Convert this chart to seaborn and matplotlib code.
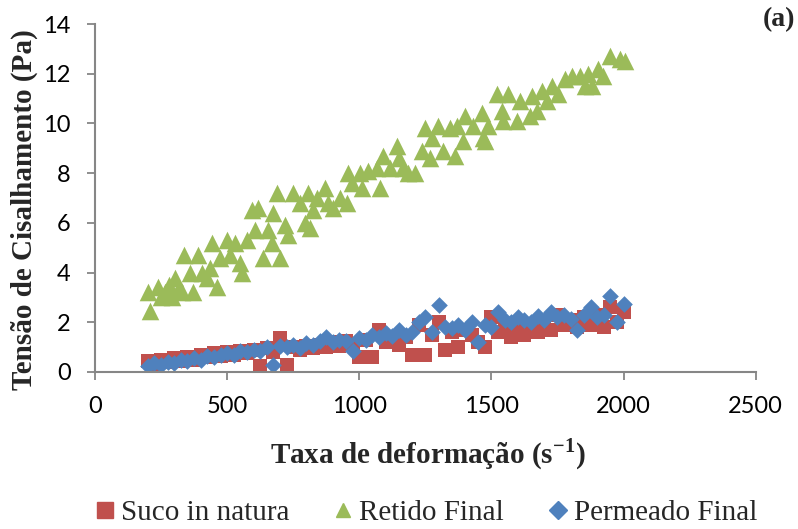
import matplotlib
matplotlib.use("Agg")
import matplotlib.pyplot as plt
from matplotlib.lines import Line2D
import seaborn as sns
import pandas as pd

# ---- data ----
suco_x = [200, 225, 250, 275, 300, 325, 350, 375, 400, 425, 450, 475, 500, 525, 550,
          575, 600, 625, 650, 675, 700, 725, 750, 775, 800, 825, 850, 875, 900, 925,
          950, 975, 1000, 1025, 1050, 1075, 1100, 1125, 1150, 1175, 1200, 1225, 1250,
          1275, 1300, 1325, 1350, 1375, 1400, 1425, 1450, 1475, 1500, 1525, 1550, 1575,
          1600, 1625, 1650, 1675, 1700, 1725, 1750, 1775, 1800, 1825, 1850, 1875, 1900,
          1925, 1950, 1975, 2000]
suco_y = [0.45, 0.3, 0.5, 0.4, 0.55, 0.45, 0.6, 0.5, 0.7, 0.6, 0.75, 0.65, 0.8, 0.7, 0.85,
          0.75, 0.9, 0.25, 0.95, 0.8, 1.35, 0.3, 1.0, 0.9, 1.05, 0.95, 1.1, 1.0, 1.2, 1.05,
          1.25, 1.1, 0.6, 1.3, 0.6, 1.7, 1.2, 1.35, 1.1, 1.4, 0.7, 1.9, 0.7,
          1.5, 2.0, 0.9, 1.6, 1.0, 1.7, 1.5, 1.2, 1.0, 2.2, 1.6, 1.8, 1.4,
          1.9, 1.5, 1.8, 1.6, 2.0, 1.7, 2.3, 1.9, 2.1, 1.8, 2.2, 1.9, 2.3,
          1.8, 2.6, 2.0, 2.4]

retido_x = [200, 208, 239, 250, 265, 280, 291, 303, 315, 329, 335, 359, 371, 390, 405,
            424, 435, 442, 461, 473, 499, 511, 529, 548, 555, 575, 594, 605, 616, 635,
            654, 669, 673, 688, 700, 718, 730, 749, 775, 794, 806, 813, 824, 840, 870,
            881, 900, 927, 953, 957, 972, 1002, 1010, 1033, 1066, 1078, 1089, 1116, 1142,
            1150, 1165, 1184, 1210, 1237, 1248, 1267, 1274, 1297, 1316, 1343, 1362, 1369,
            1392, 1399, 1430, 1464, 1467, 1475, 1486, 1520, 1539, 1543, 1562, 1596, 1607,
            1645, 1653, 1672, 1691, 1709, 1728, 1751, 1778, 1804, 1834, 1853, 1865, 1880,
            1902, 1921, 1948, 1986, 2005]
retido_y = [3.2, 2.45, 3.4, 3.0, 3.2, 3.5, 3.0, 3.8, 3.3, 3.2, 4.7, 4.0, 3.2, 4.7, 4.0,
            3.8, 4.2, 5.2, 3.4, 4.6, 5.3, 4.7, 5.2, 4.4, 4.0, 5.3, 6.5, 5.7, 6.6, 4.6,
            5.7, 5.2, 6.4, 7.2, 4.6, 5.9, 5.5, 7.2, 6.8, 6.0, 7.2, 5.8, 6.5, 7.0, 7.4,
            6.8, 6.6, 7.0, 6.8, 8.0, 7.6, 8.0, 7.4, 8.1, 8.2, 7.4, 8.7, 8.2, 9.1,
            8.6, 8.2, 8.0, 8.0, 8.9, 9.8, 8.6, 9.4, 9.9, 8.9, 9.8, 8.7, 9.9,
            9.3, 10.3, 9.9, 10.4, 9.4, 9.3, 9.9, 11.2, 10.5, 10.1, 11.2, 10.1, 10.9,
            10.3, 11.1, 10.5, 11.3, 10.9, 11.5, 11.2, 11.8, 11.9, 11.9, 11.5, 12.0, 11.5,
            12.2, 11.9, 12.7, 12.6, 12.5]

permeado_x = suco_x
permeado_y = [0.25, 0.35, 0.3, 0.4, 0.35, 0.5, 0.45, 0.55, 0.5, 0.65, 0.6, 0.7, 0.75, 0.7, 0.85,
              0.8, 0.9, 0.85, 1.0, 0.3, 1.05, 1.0, 1.1, 0.95, 1.15, 1.1, 1.25, 1.4, 1.2, 1.3,
              1.25, 0.85, 1.35, 1.3, 1.5, 1.4, 1.55, 1.45, 1.7, 1.5, 1.6, 2.0, 2.2,
              1.6, 2.7, 1.8, 1.75, 1.9, 1.7, 2.0, 1.2, 1.9, 1.8, 2.4, 2.1, 2.0,
              2.2, 2.1, 2.0, 2.25, 2.1, 2.4, 2.2, 2.3, 2.15, 1.7, 2.3, 2.6, 2.2,
              2.3, 3.05, 2.0, 2.75]

series_names = ["Suco in natura", "Retido Final", "Permeado Final"]
colors = ["#C0504D", "#9BBB59", "#4F81BD"]
markers = ["s", "^", "D"]
msizes = [90, 160, 72]

xticks = [0, 500, 1000, 1500, 2000, 2500]
yticks = [0, 2, 4, 6, 8, 10, 12, 14]

frames = []
for name, xs, ys in zip(series_names, [suco_x, retido_x, permeado_x],
                        [suco_y, retido_y, permeado_y]):
    frames.append(pd.DataFrame({"x": xs, "y": ys, "serie": name}))
df = pd.concat(frames, ignore_index=True)

sns.set_theme(style="white")
plt.rcParams["font.family"] = ["Lato", "DejaVu Sans"]

fig = plt.figure(figsize=(7.98, 5.29), dpi=100)
ax = fig.add_axes([0.119, 0.2968, 0.828, 0.6578])

for name, c, m, s in zip(series_names, colors, markers, msizes):
    sns.scatterplot(data=df[df["serie"] == name], x="x", y="y", color=c, marker=m,
                    s=s, linewidth=0, ax=ax, legend=False)

ax.set_xlim(0, 2500)
ax.set_ylim(0, 14)
ax.set_xticks(xticks)
ax.set_yticks(yticks)
ax.tick_params(axis="both", which="major", labelsize=17, direction="out",
               length=5.5, width=1.3, color="#868686", pad=12, labelcolor="black",
               bottom=True, left=True)
for side in ["top", "right"]:
    ax.spines[side].set_visible(False)
for side in ["left", "bottom"]:
    ax.spines[side].set_color("#868686")
    ax.spines[side].set_linewidth(1.5)

serif = ["Liberation Serif", "DejaVu Serif"]
serif_bold = dict(family=serif, weight="bold", size=21)
ax.set_xlabel("Taxa de deformação (s$^{\\mathregular{-1}}$)", fontdict=serif_bold)
ax.set_ylabel("Tensão de Cisalhamento (Pa)", fontdict=serif_bold)
ax.xaxis.set_label_coords(0.504, -0.185)
ax.yaxis.set_label_coords(-0.086, 0.466)

fig.text(0.997, 0.962, "(a)", ha="right", va="center",
         family=serif, weight="bold", size=20)

handles = [Line2D([], [], linestyle="none", marker=m, color=c, markersize=ms)
           for m, c, ms in zip(markers, colors, [11.5, 10, 9.5])]
fig.legend(handles, series_names, loc="center", bbox_to_anchor=(0.534, 0.03),
           ncol=3, frameon=False, handletextpad=0.2, columnspacing=1.5,
           handlelength=0.7, borderpad=0.1,
           prop=dict(family=serif, size=21))

fig.savefig("out.png", dpi=100)
